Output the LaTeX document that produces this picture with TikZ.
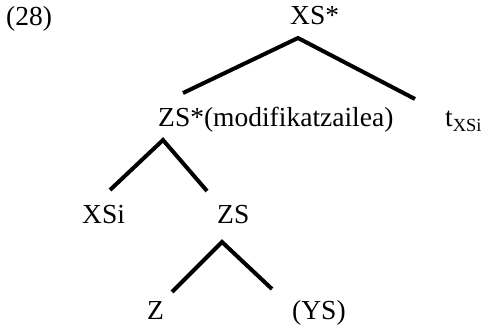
\documentclass[tikz,border=0pt]{standalone}
\usepackage{fontspec}
\setmainfont{Liberation Serif}
\usetikzlibrary{calc}
\tikzset{
  cat/.style={font=\fontsize{27.5}{30}\selectfont, inner sep=0pt, anchor=base west},
  branch/.style={draw=black, line width=4pt},
}
\newcommand{\trsub}[1]{\raisebox{-5pt}{\fontsize{18.5}{20}\selectfont #1}}

\begin{document}
\begin{tikzpicture}[x=1pt, y=-1pt]
\useasboundingbox (0,0) rectangle (484,326);

% Labels ------------------------------------------------------------------
\node[cat] (num) at (6,26) {(28)};
\node[cat] (xs) at (290,25) {XS*};
\node[cat] (zsm) at (158,126) {ZS*(modifikatzailea)};
\node[cat] (trace) at (445,127) {t\trsub{XSi}};
\node[cat] (xsi) at (82,223) {XSi};
\node[cat] (zs) at (217,223) {ZS};
\node[cat] (z) at (147,319) {Z};
\node[cat] (ys) at (292,319) {(YS)};

% Branches ----------------------------------------------------------------
\draw[branch] ($(zsm.base west)+(25,-33)$) -- ($(xs.base west)+(8,13)$)
  -- ($(trace.base west)+(-30,-28)$);
\draw[branch] ($(xsi.base west)+(28,-33)$) -- ($(zsm.base west)+(5,14)$)
  -- ($(zs.base west)+(-10,-32)$);
\draw[branch] ($(z.base west)+(25,-27)$) -- ($(zs.base west)+(5,19)$)
  -- ($(ys.base west)+(-20,-30)$);

\end{tikzpicture}
\end{document}
